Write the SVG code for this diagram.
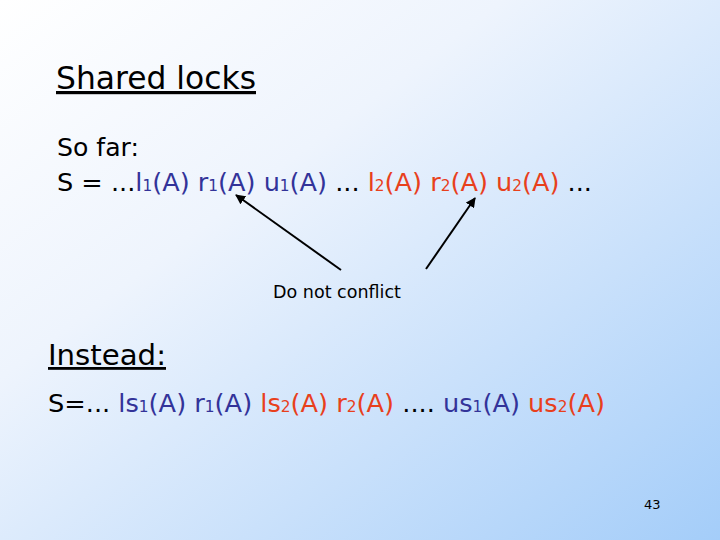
<svg xmlns="http://www.w3.org/2000/svg" width="720" height="540" viewBox="0 0 720 540">
<defs>
<linearGradient id="bg" x1="0" y1="0" x2="1" y2="1">
<stop offset="0" stop-color="#ffffff"/><stop offset="0.35" stop-color="#eef4fd"/><stop offset="1" stop-color="#a4cdf9"/>
</linearGradient>
<marker id="ah" viewBox="0 0 10 10" refX="9" refY="5" markerWidth="5" markerHeight="5" orient="auto"><path d="M0,0 L10,5 L0,10 z" fill="#000"/></marker>
<style>
text{font-family:"DejaVu Sans","Liberation Sans",sans-serif;fill:#000}
.b{fill:#333399}.r{fill:#e8401c}.s{font-size:15px}
.m{font-size:25px}
</style>
</defs>
<rect width="720" height="540" fill="url(#bg)"/>
<g id="title"><text x="56" y="89" font-size="32" textLength="200" lengthAdjust="spacingAndGlyphs" text-decoration="underline">Shared locks</text></g>
<g id="sofar"><text x="57" y="156" class="m" textLength="82" lengthAdjust="spacingAndGlyphs">So far:</text></g>
<g id="line1"><text x="57" y="191" class="m" textLength="535" lengthAdjust="spacingAndGlyphs">S = ...<tspan class="b">l<tspan class="s">1</tspan>(A) r<tspan class="s">1</tspan>(A) u<tspan class="s">1</tspan>(A)</tspan> ... <tspan class="r">l<tspan class="s">2</tspan>(A) r<tspan class="s">2</tspan>(A) u<tspan class="s">2</tspan>(A)</tspan> ...</text></g>
<g id="connectors" stroke="#000" stroke-width="2" marker-end="url(#ah)">
<line x1="341" y1="270" x2="236" y2="195"/>
<line x1="426" y1="269" x2="475" y2="198"/>
</g>
<g id="label"><text x="337" y="298" font-size="18" text-anchor="middle" textLength="128" lengthAdjust="spacingAndGlyphs">Do not conflict</text></g>
<g id="instead"><text x="48" y="365" font-size="28" textLength="118" lengthAdjust="spacingAndGlyphs" text-decoration="underline">Instead:</text></g>
<g id="line2"><text x="48" y="412" class="m" textLength="557" lengthAdjust="spacingAndGlyphs">S=... <tspan class="b">ls<tspan class="s">1</tspan>(A) r<tspan class="s">1</tspan>(A)</tspan> <tspan class="r">ls<tspan class="s">2</tspan>(A) r<tspan class="s">2</tspan>(A)</tspan> .... <tspan class="b">us<tspan class="s">1</tspan>(A)</tspan> <tspan class="r">us<tspan class="s">2</tspan>(A)</tspan></text></g>
<g id="page"><text x="644" y="509" font-size="13">43</text></g>
</svg>
